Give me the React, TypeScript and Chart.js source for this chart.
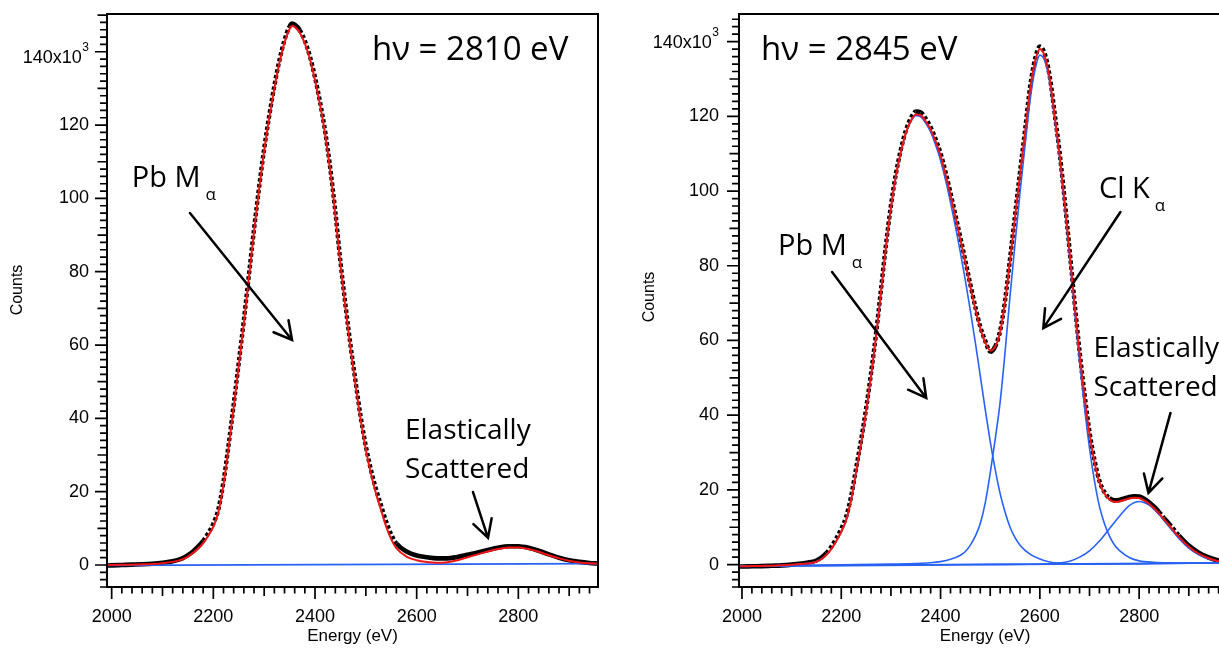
import React, { useEffect, useRef } from "react";
import { Chart, registerables } from "chart.js";

Chart.register(...registerables);

// ---------------- shared axis labels ----------------
const xTickValues = [2000, 2200, 2400, 2600, 2800];
const yTickValues = [0, 20, 40, 60, 80, 100, 120, 140];
const xTitle = "Energy (eV)";
const yTitle = "Counts";

// ---------------- Left panel: hν = 2810 eV ----------------
const leftEnergy = [
  1991, 2000, 2020, 2040, 2060, 2080, 2100, 2120, 2140,
  2150, 2160, 2170, 2180, 2190, 2200, 2210, 2220, 2230, 2240, 2250,
  2260, 2270, 2280, 2290, 2300, 2310, 2320, 2330, 2340, 2350, 2355,
  2360, 2370, 2380, 2390, 2400, 2410, 2420, 2430, 2440, 2450,
  2460, 2470, 2480, 2490, 2500, 2510, 2520, 2530, 2540, 2550, 2560,
  2580, 2600, 2620, 2640, 2660, 2680, 2700, 2720, 2740, 2760,
  2780, 2800, 2820, 2840, 2860, 2880, 2900, 2920, 2940, 2956,
];
const leftData = [
  -0.15, -0.1, 0, 0.1, 0.2, 0.35, 0.6, 1.0, 1.9,
  2.7, 3.7, 5.0, 6.6, 8.7, 11.3, 15.3, 22.8, 32.8, 43.8, 55.2,
  66.8, 79.2, 91.6, 103, 113.6, 122.6, 130.7, 137.7, 143.2, 146.9, 147.7,
  147.4, 145.9, 143.0, 138.7, 133.0, 126.2, 118.2, 108.2, 96.3, 82.8,
  70.8, 59.8, 49.8, 40.3, 32.4, 26.0, 20.7, 16.2, 11.8, 8.3, 5.9,
  3.7, 2.6, 2.1, 1.8, 1.8, 2.2, 2.8, 3.4, 4.1, 4.7,
  5.1, 5.1, 4.7, 3.9, 2.9, 2.0, 1.3, 0.85, 0.55, 0.4,
];
const leftFit = [
  -0.05, 0, 0.05, 0.1, 0.2, 0.3, 0.5, 0.85, 1.6,
  2.3, 3.3, 4.5, 6.0, 8.0, 10.5, 14.5, 22, 32, 43, 54.5,
  66, 78.5, 91, 102.5, 113, 122, 130, 137, 142.5, 146.2, 147.0,
  146.8, 145.2, 142.3, 138, 132.3, 125.5, 117.5, 107.5, 95.5, 82,
  70, 59, 49, 39.5, 31.5, 25, 19.5, 15, 10.5, 7, 4.6,
  2.3, 1.3, 0.8, 0.6, 0.75, 1.3, 2.1, 2.9, 3.7, 4.35,
  4.75, 4.8, 4.35, 3.6, 2.65, 1.8, 1.15, 0.7, 0.45, 0.35,
];
const leftBaseEnergy = [1991, 2957];
const leftBase = [-0.1, 0.4];

// ---------------- Right panel: hν = 2845 eV ----------------
const rightEnergy = [
  1994, 2000, 2020, 2040, 2060, 2080, 2100, 2120, 2140,
  2150, 2160, 2170, 2180, 2190, 2200, 2210, 2220, 2230, 2240, 2250,
  2260, 2270, 2280, 2290, 2300, 2310, 2320, 2330, 2340, 2350,
  2360, 2370, 2380, 2390, 2400, 2410, 2420, 2430, 2440, 2450,
  2460, 2470, 2480, 2490, 2500, 2510, 2520, 2530, 2540, 2550,
  2560, 2570, 2580, 2590, 2600, 2610, 2620, 2630, 2640, 2650,
  2660, 2670, 2680, 2690, 2700, 2710, 2720, 2730, 2740, 2750,
  2760, 2770, 2780, 2790, 2800, 2810, 2820, 2830, 2840, 2850,
  2860, 2880, 2900, 2920, 2940, 2960, 2980,
];
const rightData = [
  -0.5, -0.5, -0.45, -0.4, -0.3, -0.2, 0, 0.3, 0.7,
  1.1, 1.9, 3.1, 4.8, 7.0, 9.6, 12.9, 18.4, 25.9, 33.4, 41.8,
  51.3, 61.8, 73.7, 85.6, 96.1, 104.6, 111.1, 116.2, 119.5, 121.3,
  121.1, 119.4, 117.1, 113.9, 110.1, 105.1, 99.5, 93.5, 87.5, 81.3,
  75.0, 69.0, 63.7, 59.9, 57.0, 58.4, 62.6, 70.8, 82, 93.6,
  105.1, 116.1, 127.6, 135.2, 138.7, 136.7, 130.6, 120.6, 110.1, 97.6,
  84.1, 70.1, 57.1, 45.6, 35.5, 28, 22.4, 19.4, 17.8, 17.2,
  17.3, 17.7, 18.1, 18.3, 18.2, 17.6, 16.7, 15.5, 14.1, 12.5,
  11, 7.8, 5.1, 3.2, 1.9, 1.1, 0.7,
];
const rightFit = [
  -0.45, -0.45, -0.4, -0.35, -0.3, -0.2, -0.05, 0.15, 0.45,
  0.8, 1.5, 2.6, 4.2, 6.3, 8.8, 12, 17.5, 25, 32.5, 41,
  50.5, 61, 73, 85, 95.5, 104, 110.5, 115.5, 118.8, 120.5,
  120.3, 118.7, 116.5, 113.3, 109.5, 104.5, 99, 93, 87, 80.8,
  74.5, 68.5, 63.3, 59.5, 57.3, 58.3, 62.3, 70.5, 81.5, 93,
  104.5, 115.5, 127, 134.5, 138, 136, 130, 120, 109.5, 97,
  83.5, 69.5, 56.5, 45, 35, 27.5, 22, 19, 17.4, 16.8,
  16.9, 17.3, 17.7, 17.9, 17.8, 17.2, 16.3, 15.1, 13.7, 12.1,
  10.6, 7.4, 4.8, 2.9, 1.7, 0.9, 0.6,
];
const rightPbEnergy = [
  1994, 2040, 2080, 2100, 2120, 2140, 2150, 2160, 2170, 2180, 2190,
  2200, 2210, 2220, 2230, 2240, 2250, 2260, 2270, 2280, 2290,
  2300, 2310, 2320, 2330, 2340, 2350, 2360, 2370, 2380, 2390,
  2400, 2410, 2420, 2430, 2440, 2450, 2460, 2470, 2480, 2490,
  2500, 2510, 2520, 2530, 2540, 2550, 2560, 2580, 2600, 2620,
  2640, 2660, 2700, 2800, 2900, 2980,
];
const rightPb = [
  -0.45, -0.35, -0.2, -0.05, 0.15, 0.45, 0.8, 1.5, 2.6, 4.2, 6.3,
  8.8, 12, 17.5, 25, 32.5, 41, 50.5, 61, 73, 85,
  95.5, 104, 110.4, 115.4, 118.6, 120.2, 119.9, 118.2, 115.8, 112.3,
  108.2, 103, 97, 90.5, 83.5, 76, 68, 59.5, 50.5, 41.5,
  33, 25.5, 19, 14, 10, 7.2, 5.2, 2.8, 1.5, 0.7,
  0.35, 0.2, 0.1, 0.2, 0.35, 0.45,
];
const rightClEnergy = [
  1994, 2200, 2300, 2350, 2380, 2400, 2420, 2440, 2450, 2460,
  2470, 2480, 2490, 2500, 2510, 2520, 2530, 2540, 2550, 2560,
  2570, 2580, 2590, 2600, 2610, 2620, 2630, 2640, 2650, 2660,
  2670, 2680, 2690, 2700, 2710, 2720, 2730, 2740, 2750, 2760,
  2780, 2800, 2830, 2860, 2900, 2980,
];
const rightCl = [
  -0.45, -0.05, 0.15, 0.3, 0.5, 0.8, 1.4, 2.5, 3.5, 5.2,
  7.6, 11, 16.5, 24.5, 33.5, 43.5, 57, 72, 86, 99.5,
  112, 124, 132.3, 136.4, 134.8, 129, 119.2, 108.5, 96, 82.3,
  68, 54.4, 42, 31.2, 22.4, 15.6, 11, 7.7, 5.3, 3.8,
  1.9, 1.0, 0.6, 0.45, 0.4, 0.45,
];
const rightElEnergy = [
  1994, 2300, 2500, 2580, 2620, 2640, 2660, 2680, 2700, 2720,
  2740, 2760, 2780, 2800, 2820, 2840, 2860, 2880, 2900, 2920,
  2940, 2960, 2980,
];
const rightEl = [
  -0.45, -0.1, 0.05, 0.1, 0.2, 0.45, 0.9, 2.0, 3.7, 6.3,
  9.6, 12.9, 15.8, 16.9, 15.9, 13.4, 10.2, 7.0, 4.4, 2.6,
  1.5, 0.9, 0.6,
];
const rightBaseEnergy = [1994, 2985];
const rightBase = [-0.45, 0.45];

// ---------------- styling ----------------
const AXIS_FONT = "'Liberation Sans', Arial, sans-serif";
const NOTE_FONT = "'Open Sans', 'DejaVu Sans', sans-serif";
const RED = "#f01414";
const BLUE = "#2862f4";
const BLACK = "#000000";

type Note = { text: string; sub?: string; e: number; v: number; size: number };
type Arrow = { e0: number; v0: number; e1: number; v1: number };
type Spec = {
  xMin: number; xMax: number; yMin: number; yMax: number;
  padRight: number; yLabelPad: number; topLabelDy: number; yTitleY: number;
  datasets: any[]; notes: Note[]; arrows: Arrow[];
};

const pts = (xs: number[], ys: number[]) => xs.map((x, i) => ({ x, y: ys[i] }));

const lineDs = (xs: number[], ys: number[], color: string, width: number) => ({
  data: pts(xs, ys),
  borderColor: color,
  borderWidth: width,
  pointRadius: 0,
  fill: false,
  cubicInterpolationMode: "monotone",
});

const isSteep = (c: any) => Math.abs(c.p1.y - c.p0.y) > 1.2 * Math.abs(c.p1.x - c.p0.x);

const dataDs = (xs: number[], ys: number[]) => ({
  ...lineDs(xs, ys, BLACK, 4.6),
  segment: {
    borderDash: (c: any) => (isSteep(c) ? [3.4, 2.4] : undefined),
    borderWidth: (c: any) => (isSteep(c) ? 4.4 : undefined),
  },
});

function makePlugin(spec: Spec) {
  return {
    id: "igorFrame",
    afterDraw(chart: any) {
      const { ctx, chartArea: a, scales } = chart;
      const xs = scales.x;
      const ys = scales.y;
      ctx.save();
      // frame
      ctx.strokeStyle = BLACK;
      ctx.lineWidth = 2;
      ctx.strokeRect(a.left, a.top, a.right - a.left, a.bottom - a.top);
      // ticks
      ctx.lineWidth = 1.7;
      ctx.beginPath();
      for (let v = Math.ceil(ys.min / 2) * 2; v <= ys.max; v += 2) {
        const y = ys.getPixelForValue(v);
        const len = v % 20 === 0 ? 11 : v % 10 === 0 ? 8.5 : 6;
        ctx.moveTo(a.left - 1, y);
        ctx.lineTo(a.left - 1 - len, y);
      }
      for (let e = Math.ceil(xs.min / 20) * 20; e <= xs.max; e += 20) {
        const x = xs.getPixelForValue(e);
        const len = e % 200 === 0 ? 11 : e % 100 === 0 ? 8 : 5.5;
        ctx.moveTo(x, a.bottom + 1);
        ctx.lineTo(x, a.bottom + 1 + len);
      }
      ctx.stroke();
      // top label with exponent
      const top = yTickValues[yTickValues.length - 1];
      const yTop = ys.getPixelForValue(top) + spec.topLabelDy;
      const rx = a.left - spec.yLabelPad;
      ctx.fillStyle = BLACK;
      ctx.font = `12px ${AXIS_FONT}`;
      ctx.textAlign = "right";
      ctx.textBaseline = "alphabetic";
      const expW = ctx.measureText("3").width;
      ctx.fillText("3", rx, yTop - 6);
      ctx.font = `18px ${AXIS_FONT}`;
      ctx.textBaseline = "middle";
      ctx.fillText(`${top}x10`, rx - expW - 0.5, yTop + 1);
      // y title
      ctx.save();
      ctx.translate(18, spec.yTitleY);
      ctx.rotate(-Math.PI / 2);
      ctx.font = `16px ${AXIS_FONT}`;
      ctx.textAlign = "center";
      ctx.textBaseline = "middle";
      ctx.fillText(yTitle, 0, 0);
      ctx.restore();
      // notes
      ctx.textAlign = "left";
      ctx.textBaseline = "alphabetic";
      for (const n of spec.notes) {
        const x = xs.getPixelForValue(n.e);
        const y = ys.getPixelForValue(n.v);
        ctx.font = `${n.size}px ${NOTE_FONT}`;
        ctx.fillText(n.text, x, y);
        if (n.sub) {
          const w = ctx.measureText(n.text).width;
          ctx.font = `17px ${NOTE_FONT}`;
          ctx.fillText(n.sub, x + w + 5, y + 13);
        }
      }
      // arrows
      ctx.lineWidth = 2.5;
      ctx.lineCap = "round";
      for (const ar of spec.arrows) {
        const x0 = xs.getPixelForValue(ar.e0);
        const y0 = ys.getPixelForValue(ar.v0);
        const x1 = xs.getPixelForValue(ar.e1);
        const y1 = ys.getPixelForValue(ar.v1);
        const ang = Math.atan2(y1 - y0, x1 - x0);
        const L = 20;
        const spread = 0.5;
        ctx.beginPath();
        ctx.moveTo(x0, y0);
        ctx.lineTo(x1, y1);
        ctx.moveTo(x1 + L * Math.cos(ang + Math.PI - spread), y1 + L * Math.sin(ang + Math.PI - spread));
        ctx.lineTo(x1, y1);
        ctx.lineTo(x1 + L * Math.cos(ang + Math.PI + spread), y1 + L * Math.sin(ang + Math.PI + spread));
        ctx.stroke();
      }
      ctx.restore();
    },
  };
}

function buildConfig(spec: Spec): any {
  return {
    type: "line",
    data: { datasets: spec.datasets },
    options: {
      responsive: false,
      animation: false,
      events: [],
      layout: { padding: { left: 0, top: 14, right: spec.padRight, bottom: 0 } },
      plugins: { legend: { display: false }, tooltip: { enabled: false } },
      scales: {
        x: {
          type: "linear",
          min: spec.xMin,
          max: spec.xMax,
          grid: { display: false, drawTicks: false },
          border: { display: false },
          afterBuildTicks: (s: any) => {
            s.ticks = xTickValues.map((value) => ({ value }));
          },
          afterFit: (s: any) => {
            s.height = 67;
            s.paddingLeft = 0;
            s.paddingRight = 0;
          },
          ticks: {
            font: { family: AXIS_FONT, size: 18 },
            color: BLACK,
            padding: 19,
            maxRotation: 0,
            autoSkip: false,
            callback: (v: any) => String(v),
          },
          title: {
            display: true,
            text: xTitle,
            color: BLACK,
            font: { family: AXIS_FONT, size: 17, lineHeight: 1.2 },
            padding: { top: 0, bottom: 7 },
          },
        },
        y: {
          type: "linear",
          min: spec.yMin,
          max: spec.yMax,
          grid: { display: false, drawTicks: false },
          border: { display: false },
          afterBuildTicks: (s: any) => {
            s.ticks = yTickValues.map((value) => ({ value }));
          },
          afterFit: (s: any) => {
            s.width = 107;
            s.paddingTop = 0;
            s.paddingBottom = 0;
          },
          ticks: {
            font: { family: AXIS_FONT, size: 18 },
            color: BLACK,
            padding: spec.yLabelPad,
            autoSkip: false,
            callback: (v: any) => (v === yTickValues[yTickValues.length - 1] ? "" : String(v)),
          },
        },
      },
    },
    plugins: [makePlugin(spec)],
  };
}

const leftSpec: Spec = {
  xMin: 1990.8, xMax: 2956.7, yMin: -6, yMax: 150.3,
  padRight: 12, yLabelPad: 18, topLabelDy: 5, yTitleY: 290,
  datasets: [
    lineDs(leftEnergy, leftFit, RED, 2),
    lineDs(leftBaseEnergy, leftBase, BLUE, 1.8),
    dataDs(leftEnergy, leftData),
  ],
  notes: [
    { text: "hν = 2810 eV", e: 2512, v: 137.75, size: 33 },
    { text: "Pb M", sub: "α", e: 2039.4, v: 103.2, size: 29 },
    { text: "Elastically", e: 2577, v: 34.4, size: 28 },
    { text: "Scattered", e: 2577, v: 23.7, size: 28 },
  ],
  arrows: [
    { e0: 2154, v0: 96.0, e1: 2354.8, v1: 61.4 },
    { e0: 2710.8, v0: 19.9, e1: 2740.3, v1: 7.4 },
  ],
};

const rightSpec: Spec = {
  xMin: 1994, xMax: 2985, yMin: -6, yMax: 147.4,
  padRight: 12, yLabelPad: 20, topLabelDy: 0, yTitleY: 297,
  datasets: [
    lineDs(rightEnergy, rightFit, RED, 2),
    lineDs(rightPbEnergy, rightPb, BLUE, 1.6),
    lineDs(rightClEnergy, rightCl, BLUE, 1.6),
    lineDs(rightElEnergy, rightEl, BLUE, 1.6),
    lineDs(rightBaseEnergy, rightBase, BLUE, 1.8),
    dataDs(rightEnergy, rightData),
  ],
  notes: [
    { text: "hν = 2845 eV", e: 2038.4, v: 135.1, size: 33 },
    { text: "Pb M", sub: "α", e: 2072.6, v: 82.9, size: 29 },
    { text: "Cl K", sub: "α", e: 2719, v: 98.1, size: 29 },
    { text: "Elastically", e: 2707.9, v: 55.6, size: 28 },
    { text: "Scattered", e: 2707.9, v: 45.1, size: 28 },
  ],
  arrows: [
    { e0: 2181.5, v0: 78.3, e1: 2371.1, v1: 44.6 },
    { e0: 2762.3, v0: 94.4, e1: 2607, v1: 63.3 },
    { e0: 2863.1, v0: 40.6, e1: 2818.8, v1: 19.2 },
  ],
};

function Panel({ spec, left, width }: { spec: Spec; left: number; width: number }) {
  const ref = useRef<HTMLCanvasElement>(null);
  useEffect(() => {
    const chart = new Chart(ref.current as HTMLCanvasElement, buildConfig(spec));
    return () => chart.destroy();
  }, [spec]);
  return (
    <canvas
      ref={ref}
      width={width}
      height={654}
      style={{ position: "absolute", left, top: 0, width, height: 654 }}
    />
  );
}

export default function App() {
  return (
    <div
      style={{
        position: "fixed",
        left: 0,
        top: 0,
        width: 1219,
        height: 654,
        overflow: "hidden",
        background: "#ffffff",
      }}
    >
      <Panel spec={leftSpec} left={0} width={610} />
      <Panel spec={rightSpec} left={632} width={611} />
    </div>
  );
}
